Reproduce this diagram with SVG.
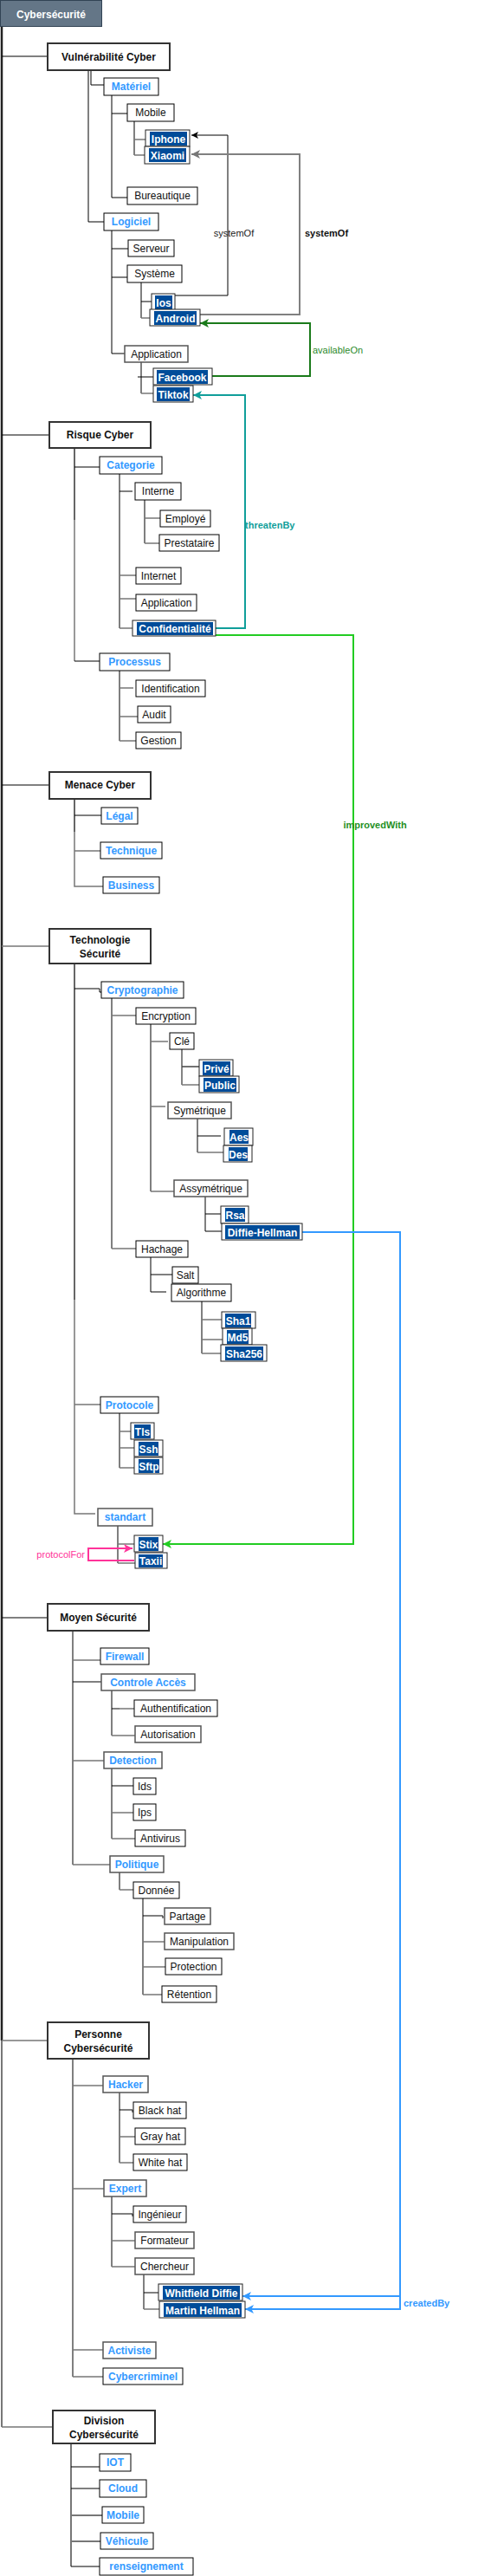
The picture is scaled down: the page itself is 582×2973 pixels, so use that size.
<svg xmlns="http://www.w3.org/2000/svg" width="582" height="2973" viewBox="0 0 582 2973">
<style>
text{font-family:"Liberation Sans",Arial,sans-serif;font-size:12px;text-anchor:middle}
.n rect{fill:#fff;stroke:#000;stroke-width:1}
.n text{fill:#111}
.c rect{fill:#fff;stroke:#000;stroke-width:1}
.c text{fill:#3399ff;font-weight:bold}
.m rect{fill:#fff;stroke:#333;stroke-width:2}
.m text{fill:#111;font-weight:bold}
.h rect{fill:#fff;stroke:#222;stroke-width:1}
.h rect.in{fill:#004c99;stroke:none}
.h text{fill:#fff;font-weight:bold}
.gb rect{stroke:#555;stroke-width:1.5}
.k{stroke:#000;stroke-width:1;fill:none}
.g{stroke:#777;stroke-width:1.5;fill:none}
.lbl{font-size:11px}
</style>
<defs>
<marker id="aK" markerUnits="userSpaceOnUse" markerWidth="10" markerHeight="10" refX="8" refY="4" orient="auto"><path d="M0,0 L8,4 L0,8 L2,4 z" fill="#000"/></marker>
<marker id="aG" markerUnits="userSpaceOnUse" markerWidth="12" markerHeight="12" refX="10" refY="5" orient="auto"><path d="M0,0 L10,5 L0,10 L2.5,5 z" fill="#777"/></marker>
<marker id="aDG" markerUnits="userSpaceOnUse" markerWidth="12" markerHeight="12" refX="10" refY="5" orient="auto"><path d="M0,0 L10,5 L0,10 L2.5,5 z" fill="#1a7a1a"/></marker>
<marker id="aT" markerUnits="userSpaceOnUse" markerWidth="12" markerHeight="12" refX="10" refY="5" orient="auto"><path d="M0,0 L10,5 L0,10 L2.5,5 z" fill="#109e9a"/></marker>
<marker id="aBG" markerUnits="userSpaceOnUse" markerWidth="12" markerHeight="12" refX="10" refY="5" orient="auto"><path d="M0,0 L10,5 L0,10 L2.5,5 z" fill="#22cc22"/></marker>
<marker id="aB" markerUnits="userSpaceOnUse" markerWidth="12" markerHeight="12" refX="10" refY="5" orient="auto"><path d="M0,0 L10,5 L0,10 L2.5,5 z" fill="#3399ff"/></marker>
<marker id="aP" markerUnits="userSpaceOnUse" markerWidth="12" markerHeight="12" refX="10" refY="5" orient="auto"><path d="M0,0 L10,5 L0,10 L2.5,5 z" fill="#ff3399"/></marker>
</defs>
<rect width="582" height="2973" fill="#fff"/>

<g id="connectors">
<path class="k" d="M2,31 V2355" stroke-width="2.5" style="stroke:#222;stroke-width:2.5"/>
<path class="g" d="M2,2355 V2801" style="stroke-width:2"/>
<path class="k" d="M2,65 H55 M2,502 H57 M2,906 H57 M2,1867 H55"/>
<path class="g" d="M2,1092 H57 M2,2355 H55 M2,2801 H61"/>
<!-- Vulnérabilité -->
<path class="k" d="M102,81 V256 H120 M105,81 V98 H120"/>
<path class="k" d="M129,110 V228 H147 M129,131 H147"/>
<path class="k" d="M155,140 V179"/>
<path class="g" d="M155,161 H168 M155,179 H167"/>
<path class="k" d="M129,266 V408 H144 M129,287 H148 M129,320 H147"/>
<path class="k" d="M163,326 V367 M163,348 H175"/>
<path class="g" d="M163,367 H173"/>
<path class="k" d="M163,418 V454 M159,435 H177"/>
<path class="g" d="M163,454 H177"/>
<!-- Risque -->
<path class="k" d="M86,517 V600" style="stroke:#333;stroke-width:1.5"/>
<path class="g" d="M86,600 V763"/>
<path class="k" d="M86,539 H115 M86,763 H115"/>
<path class="k" d="M138,547 V725 M138,567 H153"/>
<path class="g" d="M138,664 H157 M138,691 H157 M138,725 H153"/>
<path class="k" d="M167,577 V627"/>
<path class="g" d="M167,598 H185 M167,627 H184"/>
<path class="k" d="M138,774 V855"/>
<path class="g" d="M138,794 H154 M138,827 H160 M138,855 H157"/>
<!-- Menace -->
<path class="k" d="M86,922 V960" style="stroke:#333;stroke-width:1.5"/>
<path class="g" d="M86,960 V1023 H119 M86,982 H116"/>
<path class="k" d="M86,941 H117"/>
<!-- Technologie -->
<path class="k" d="M86,1112 V1500" style="stroke:#333;stroke-width:1.5"/>
<path class="g" d="M86,1500 V1747 H110 M86,1621 H116"/>
<path class="k" d="M86,1141 H115 V1145 H117"/>
<path class="k" d="M129,1151 V1441"/>
<path class="g" d="M129,1172 H157 M129,1441 H157"/>
<path class="k" d="M174,1181 V1375"/>
<path class="g" d="M174,1202 H194 M174,1277 H191 M174,1375 H201"/>
<path class="k" d="M210,1211 V1252 M210,1231 H230" style="stroke:#444;stroke-width:1.3"/>
<path class="g" d="M210,1252 H230"/>
<path class="k" d="M228,1285 V1330 M228,1311 H255"/>
<path class="g" d="M228,1330 H258"/>
<path class="k" d="M237,1381 V1421 H256 M237,1401 H255"/>
<path class="k" d="M174,1451 V1491 H192 M174,1471 H199"/>
<path class="k" d="M233,1502 V1562"/>
<path class="g" d="M233,1523 H256 M233,1546 H257 M233,1562 H255"/>
<path class="k" d="M138,1631 V1694"/>
<path class="g" d="M138,1652 H151 M138,1671 H155 M138,1694 H155"/>
<path class="k" d="M136,1761 V1804"/>
<path class="g" d="M136,1782 H155 M136,1804 H156"/>
<!-- Moyen -->
<path class="k" d="M84,1882 V2152 M84,1941 H117"/>
<path class="g" d="M84,1916 H116 M84,2032 H120 M84,2152 H127"/>
<path class="k" d="M129,1951 V2003 M129,1972 H138"/>
<path class="g" d="M138,1972 H155 M129,2003 H156"/>
<path class="k" d="M129,2041 V2122 M129,2061 H154"/>
<path class="g" d="M129,2092 H154 M129,2122 H156"/>
<path class="k" d="M138,2161 V2181"/>
<path class="g" d="M138,2181 H154"/>
<path class="k" d="M165,2191 V2302 M165,2211 H188 V2214"/>
<path class="g" d="M165,2241 H190 M165,2270 H191 M165,2302 H187"/>
<!-- Personne -->
<path class="k" d="M84,2376 V2743"/>
<path class="g" d="M84,2407 H119 M84,2526 H120 M84,2712 H119 M84,2743 H119"/>
<path class="k" d="M138,2415 V2496 M138,2435 H153 V2438"/>
<path class="g" d="M138,2466 H156 M138,2496 H154"/>
<path class="k" d="M129,2535 V2616 M129,2555 H153 V2558"/>
<path class="g" d="M129,2586 H156 M129,2616 H156"/>
<path class="k" d="M166,2625 V2665 M166,2646 H183"/>
<path class="g" d="M166,2665 H184"/>
<!-- Division -->
<path class="g" d="M82,2820 V2962 M82,2903 H118 M82,2933 H116" style="stroke-width:2"/>
<path class="k" d="M82,2847 H115 M82,2872 H115 M82,2962 H115"/>

<!-- relations -->
<path d="M202,341 H263 V156 H221" fill="none" stroke="#000" stroke-width="1" marker-end="url(#aK)"/>
<path d="M231,363 H346 V178 H221" fill="none" stroke="#808080" stroke-width="2" marker-end="url(#aG)"/>
<path d="M245,434 H358 V373 H231" fill="none" stroke="#1a7a1a" stroke-width="2" marker-end="url(#aDG)"/>
<path d="M249,725 H283 V456 H223" fill="none" stroke="#109e9a" stroke-width="2" marker-end="url(#aT)"/>
<path d="M249,733 H408 V1782 H188" fill="none" stroke="#22cc22" stroke-width="2" marker-end="url(#aBG)"/>
<path d="M349,1422 H462 V2665 H283" fill="none" stroke="#3399ff" stroke-width="2" marker-end="url(#aB)"/>
<path d="M462,2650 H280" fill="none" stroke="#3399ff" stroke-width="2" marker-end="url(#aB)"/>
<path d="M155,1801 H102 V1787 H153" fill="none" stroke="#ff3399" stroke-width="2" marker-end="url(#aP)"/>
<text class="lbl" x="270" y="273" fill="#222">systemOf</text>
<text class="lbl" x="377" y="273" fill="#111" font-weight="bold">systemOf</text>
<text class="lbl" x="361" y="408" fill="#2a8a2a" style="text-anchor:start">availableOn</text>
<text class="lbl" x="283" y="610" fill="#109e9a" font-weight="bold" style="text-anchor:start">threatenBy</text>
<text class="lbl" x="433" y="956" fill="#1f8f1f" font-weight="bold">improvedWith</text>
<text class="lbl" x="466" y="2662" fill="#3399ff" font-weight="bold" style="text-anchor:start">createdBy</text>
<text class="lbl" x="98" y="1798" fill="#ff3399" style="text-anchor:end">protocolFor</text>
</g>

<g id="root"><rect x="0.5" y="0.5" width="117" height="30" fill="#647687" stroke="#314354" stroke-width="1"/><text x="59" y="21" fill="#fff" font-weight="bold" font-size="14">Cybersécurité</text></g>

<!-- main nodes -->
<g id="vuln" class="m"><rect x="55" y="50" width="141" height="31"/><text x="125.5" y="70">Vulnérabilité Cyber</text></g>
<g id="risque" class="m"><rect x="57" y="487" width="117" height="30"/><text x="115.5" y="506">Risque Cyber</text></g>
<g id="menace" class="m"><rect x="57" y="891" width="117" height="31"/><text x="115.5" y="910">Menace Cyber</text></g>
<g id="techno" class="m"><rect x="57" y="1072" width="117" height="40"/><text x="115.5" y="1089">Technologie</text><text x="115.5" y="1105">Sécurité</text></g>
<g id="moyen" class="m"><rect x="55" y="1851" width="117" height="31"/><text x="113.5" y="1871">Moyen Sécurité</text></g>
<g id="personne" class="m"><rect x="55" y="2334" width="117" height="42"/><text x="113.5" y="2352">Personne</text><text x="113.5" y="2368">Cybersécurité</text></g>
<g id="division" class="m"><rect x="61" y="2782" width="118" height="38"/><text x="120" y="2798">Division</text><text x="120" y="2814">Cybersécurité</text></g>

<!-- category nodes -->
<g id="materiel" class="c"><rect x="120" y="90" width="63" height="20"/><text x="151.5" y="104">Matériel</text></g>
<g id="logiciel" class="c"><rect x="120" y="246" width="63" height="20"/><text x="151.5" y="260">Logiciel</text></g>
<g id="categorie" class="c"><rect x="115" y="527" width="72" height="20"/><text x="151" y="541">Categorie</text></g>
<g id="processus" class="c"><rect x="115" y="754" width="81" height="20"/><text x="155.5" y="768">Processus</text></g>
<g id="legal" class="c"><rect x="117" y="932" width="42" height="19"/><text x="138" y="945.5">Légal</text></g>
<g id="technique" class="c"><rect x="116" y="972" width="71" height="19"/><text x="151.5" y="985.5">Technique</text></g>
<g id="business" class="c"><rect x="119" y="1012" width="65" height="19"/><text x="151.5" y="1025.5">Business</text></g>
<g id="crypto" class="c"><rect x="117" y="1133" width="95" height="19"/><text x="164.5" y="1146.5">Cryptographie</text></g>
<g id="protocole" class="c"><rect x="116" y="1612" width="67" height="19"/><text x="149.5" y="1625.5">Protocole</text></g>
<g id="standart" class="c gb"><rect x="113" y="1741" width="63" height="20"/><text x="144.5" y="1755">standart</text></g>
<g id="firewall" class="c"><rect x="116" y="1902" width="56" height="19"/><text x="144" y="1915.5">Firewall</text></g>
<g id="controle" class="c gb"><rect x="117" y="1932" width="108" height="19"/><text x="171" y="1945.5">Controle Accès</text></g>
<g id="detection" class="c gb"><rect x="120" y="2022" width="67" height="19"/><text x="153.5" y="2035.5">Detection</text></g>
<g id="politique" class="c gb"><rect x="127" y="2142" width="62" height="19"/><text x="158" y="2155.5">Politique</text></g>
<g id="hacker" class="c gb"><rect x="119" y="2396" width="52" height="19"/><text x="145" y="2409.5">Hacker</text></g>
<g id="expert" class="c gb"><rect x="120" y="2516" width="49" height="19"/><text x="144.5" y="2529.5">Expert</text></g>
<g id="activiste" class="c gb"><rect x="119" y="2703" width="61" height="19"/><text x="149.5" y="2716.5">Activiste</text></g>
<g id="cybercriminel" class="c"><rect x="119" y="2733" width="92" height="19"/><text x="165" y="2746.5">Cybercriminel</text></g>
<g id="iot" class="c"><rect x="115" y="2832" width="36" height="20"/><text x="133" y="2846">IOT</text></g>
<g id="cloud" class="c"><rect x="115" y="2862" width="54" height="20"/><text x="142" y="2876">Cloud</text></g>
<g id="mobile2" class="c"><rect x="118" y="2893" width="48" height="19"/><text x="142" y="2906.5">Mobile</text></g>
<g id="vehicule" class="c"><rect x="116" y="2923" width="61" height="19"/><text x="146.5" y="2936.5">Véhicule</text></g>
<g id="renseignement" class="c"><rect x="115" y="2952" width="108" height="20"/><text x="169" y="2966">renseignement</text></g>

<!-- normal nodes -->
<g id="mobile" class="n"><rect x="147" y="120" width="54" height="20"/><text x="174" y="134">Mobile</text></g>
<g id="bureautique" class="n"><rect x="147" y="216" width="81" height="20"/><text x="187.5" y="230">Bureautique</text></g>
<g id="serveur" class="n"><rect x="148" y="277" width="53" height="19"/><text x="174.5" y="290.5">Serveur</text></g>
<g id="systeme" class="n"><rect x="147" y="306" width="63" height="20"/><text x="178.5" y="320">Système</text></g>
<g id="application" class="n gb"><rect x="144" y="399" width="73" height="19"/><text x="180.5" y="412.5">Application</text></g>
<g id="interne" class="n"><rect x="156" y="557" width="53" height="20"/><text x="182.5" y="571">Interne</text></g>
<g id="employe" class="n"><rect x="185" y="589" width="58" height="19"/><text x="214" y="602.5">Employé</text></g>
<g id="prestataire" class="n"><rect x="184" y="617" width="69" height="19"/><text x="218.5" y="630.5">Prestataire</text></g>
<g id="internet" class="n"><rect x="157" y="655" width="52" height="19"/><text x="183" y="668.5">Internet</text></g>
<g id="application2" class="n"><rect x="157" y="686" width="70" height="19"/><text x="192" y="699.5">Application</text></g>
<g id="identification" class="n"><rect x="157" y="785" width="80" height="19"/><text x="197" y="798.5">Identification</text></g>
<g id="audit" class="n"><rect x="159" y="815" width="38" height="19"/><text x="178" y="828.5">Audit</text></g>
<g id="gestion" class="n"><rect x="157" y="845" width="52" height="19"/><text x="183" y="858.5">Gestion</text></g>
<g id="encryption" class="n"><rect x="157" y="1163" width="69" height="19"/><text x="191.5" y="1176.5">Encryption</text></g>
<g id="cle" class="n"><rect x="196" y="1192" width="28" height="19"/><text x="210" y="1205.5">Clé</text></g>
<g id="symetrique" class="n gb"><rect x="194" y="1272" width="73" height="19"/><text x="230.5" y="1285.5">Symétrique</text></g>
<g id="assymetrique" class="n gb"><rect x="201" y="1362" width="85" height="19"/><text x="243.5" y="1375.5">Assymétrique</text></g>
<g id="hachage" class="n"><rect x="157" y="1432" width="60" height="19"/><text x="187" y="1445.5">Hachage</text></g>
<g id="salt" class="n"><rect x="199" y="1462" width="30" height="19"/><text x="214" y="1475.5">Salt</text></g>
<g id="algorithme" class="n"><rect x="198" y="1482" width="69" height="20"/><text x="232.5" y="1496">Algorithme</text></g>
<g id="authentification" class="n"><rect x="155" y="1962" width="96" height="19"/><text x="203" y="1975.5">Authentification</text></g>
<g id="autorisation" class="n gb"><rect x="156" y="1992" width="76" height="19"/><text x="194" y="2005.5">Autorisation</text></g>
<g id="ids" class="n"><rect x="154" y="2052" width="26" height="19"/><text x="167" y="2065.5">Ids</text></g>
<g id="ips" class="n"><rect x="154" y="2082" width="26" height="19"/><text x="167" y="2095.5">Ips</text></g>
<g id="antivirus" class="n"><rect x="156" y="2112" width="58" height="19"/><text x="185" y="2125.5">Antivirus</text></g>
<g id="donnee" class="n"><rect x="154" y="2172" width="53" height="19"/><text x="180.5" y="2185.5">Donnée</text></g>
<g id="partage" class="n gb"><rect x="190" y="2202" width="53" height="19"/><text x="216.5" y="2215.5">Partage</text></g>
<g id="manipulation" class="n gb"><rect x="190" y="2231" width="80" height="19"/><text x="230" y="2244.5">Manipulation</text></g>
<g id="protection" class="n"><rect x="191" y="2260" width="65" height="19"/><text x="223.5" y="2273.5">Protection</text></g>
<g id="retention" class="n"><rect x="187" y="2292" width="63" height="19"/><text x="218.5" y="2305.5">Rétention</text></g>
<g id="blackhat" class="n"><rect x="154" y="2426" width="61" height="19"/><text x="184.5" y="2439.5">Black hat</text></g>
<g id="grayhat" class="n"><rect x="156" y="2456" width="58" height="19"/><text x="185" y="2469.5">Gray hat</text></g>
<g id="whitehat" class="n"><rect x="154" y="2486" width="62" height="19"/><text x="185" y="2499.5">White hat</text></g>
<g id="ingenieur" class="n"><rect x="154" y="2546" width="61" height="19"/><text x="184.5" y="2559.5">Ingénieur</text></g>
<g id="formateur" class="n gb"><rect x="156" y="2576" width="68" height="19"/><text x="190" y="2589.5">Formateur</text></g>
<g id="chercheur" class="n gb"><rect x="156" y="2606" width="68" height="19"/><text x="190" y="2619.5">Chercheur</text></g>

<!-- highlighted nodes -->
<g id="iphone" class="h"><rect x="168" y="150" width="51" height="19"/><rect class="in" x="173" y="152" width="43" height="16"/><text x="194.5" y="164.5">Iphone</text></g>
<g id="xiaomi" class="h"><rect x="167" y="169" width="52" height="20"/><rect class="in" x="172" y="171" width="43" height="16"/><text x="193.5" y="183.5">Xiaomi</text></g>
<g id="ios" class="h"><rect x="175" y="339" width="27" height="19"/><rect class="in" x="179" y="341" width="20" height="16"/><text x="189" y="353.5">Ios</text></g>
<g id="android" class="h"><rect x="173" y="357" width="58" height="19"/><rect class="in" x="178" y="359" width="49" height="16"/><text x="202.5" y="371.5">Android</text></g>
<g id="facebook" class="h"><rect x="177" y="425" width="68" height="19"/><rect class="in" x="181" y="427" width="59" height="16"/><text x="210.5" y="439.5">Facebook</text></g>
<g id="tiktok" class="h"><rect x="177" y="445" width="46" height="19"/><rect class="in" x="181" y="447" width="38" height="16"/><text x="200" y="459.5">Tiktok</text></g>
<g id="confidentialite" class="h"><rect x="153" y="716" width="96" height="18"/><rect class="in" x="158" y="718" width="88" height="15"/><text x="202" y="729.5">Confidentialité</text></g>
<g id="prive" class="h"><rect x="230" y="1223" width="39" height="19"/><rect class="in" x="234" y="1225" width="32" height="16"/><text x="250" y="1237.5">Privé</text></g>
<g id="public" class="h"><rect x="230" y="1242" width="46" height="19"/><rect class="in" x="235" y="1244" width="38" height="16"/><text x="254" y="1256.5">Public</text></g>
<g id="aes" class="h"><rect x="259" y="1302" width="33" height="20"/><rect class="in" x="265" y="1304" width="22" height="16"/><text x="276" y="1316.5">Aes</text></g>
<g id="des" class="h"><rect x="258" y="1322" width="33" height="19"/><rect class="in" x="264" y="1324" width="22" height="16"/><text x="275" y="1336.5">Des</text></g>
<g id="rsa" class="h"><rect x="255" y="1392" width="32" height="20"/><rect class="in" x="260" y="1394" width="23" height="16"/><text x="271.5" y="1406.5">Rsa</text></g>
<g id="diffie" class="h"><rect x="256" y="1412" width="93" height="19"/><rect class="in" x="260" y="1414" width="86" height="16"/><text x="303" y="1426.5">Diffie-Hellman</text></g>
<g id="sha1" class="h"><rect x="256" y="1514" width="39" height="19"/><rect class="in" x="260" y="1516" width="30" height="16"/><text x="275" y="1528.5">Sha1</text></g>
<g id="md5" class="h"><rect x="257" y="1533" width="34" height="19"/><rect class="in" x="262" y="1535" width="25" height="16"/><text x="274.5" y="1547.5">Md5</text></g>
<g id="sha256" class="h"><rect x="255" y="1552" width="53" height="19"/><rect class="in" x="260" y="1554" width="44" height="16"/><text x="282" y="1566.5">Sha256</text></g>
<g id="tls" class="h"><rect x="151" y="1642" width="27" height="19"/><rect class="in" x="155" y="1644" width="19" height="16"/><text x="164.5" y="1656.5">Tls</text></g>
<g id="ssh" class="h"><rect x="155" y="1662" width="33" height="19"/><rect class="in" x="160" y="1664" width="23" height="16"/><text x="171.5" y="1676.5">Ssh</text></g>
<g id="sftp" class="h"><rect x="155" y="1682" width="33" height="19"/><rect class="in" x="160" y="1684" width="24" height="16"/><text x="172" y="1696.5">Sftp</text></g>
<g id="stix" class="h"><rect x="155" y="1772" width="33" height="19"/><rect class="in" x="160" y="1774" width="23" height="16"/><text x="171.5" y="1786.5">Stix</text></g>
<g id="taxii" class="h"><rect x="156" y="1792" width="37" height="18"/><rect class="in" x="160" y="1794" width="28" height="15"/><text x="174" y="1805.5">Taxii</text></g>
<g id="whitfield" class="h"><rect x="183" y="2636" width="97" height="19"/><rect class="in" x="188" y="2638" width="89" height="16"/><text x="232.5" y="2650.5">Whitfield Diffie</text></g>
<g id="martin" class="h"><rect x="184" y="2656" width="99" height="19"/><rect class="in" x="189" y="2658" width="90" height="16"/><text x="234" y="2670.5">Martin Hellman</text></g>
</svg>
